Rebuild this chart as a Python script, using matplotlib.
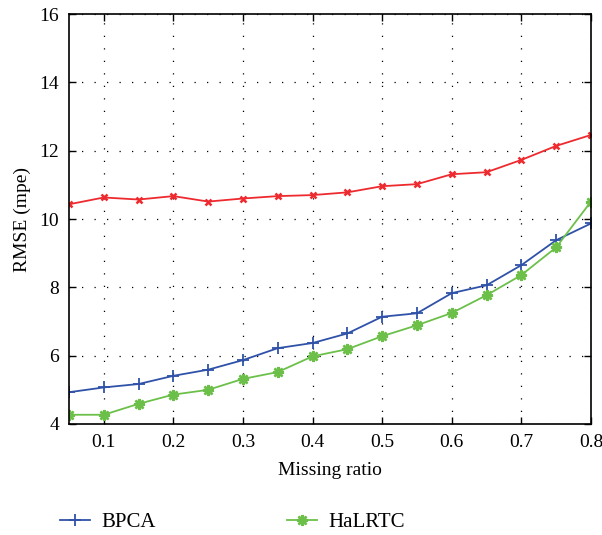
import numpy as np
import matplotlib.pyplot as plt

plt.rcParams["font.family"] = ["Liberation Serif", "DejaVu Serif"]

# Data
missing_ratio = [0.05, 0.10, 0.15, 0.20, 0.25, 0.30, 0.35, 0.40,
                 0.45, 0.50, 0.55, 0.60, 0.65, 0.70, 0.75, 0.80]
bpca = [4.93, 5.07, 5.17, 5.41, 5.59, 5.87, 6.22, 6.37,
        6.65, 7.14, 7.24, 7.83, 8.06, 8.65, 9.38, 9.87]
halrtc = [4.27, 4.27, 4.59, 4.86, 5.00, 5.32, 5.52, 5.98,
          6.19, 6.57, 6.89, 7.25, 7.77, 8.36, 9.17, 10.51]
mean_imp = [10.43, 10.63, 10.57, 10.67, 10.51, 10.60, 10.67, 10.70,
            10.78, 10.96, 11.02, 11.31, 11.37, 11.73, 12.14, 12.46]

xticks = [0.1, 0.2, 0.3, 0.4, 0.5, 0.6, 0.7, 0.8]
yticks = [4, 6, 8, 10, 12, 14, 16]

fig = plt.figure(figsize=(6.02, 5.35), dpi=100)
ax = fig.add_axes([0.1146, 0.2075, 0.8671, 0.7663])

l1, = ax.plot(missing_ratio, bpca, color="#2f52a8", lw=1.3, marker="+",
              ms=9, mew=1.3, label="BPCA")
l3, = ax.plot(missing_ratio, mean_imp, color="#ee2a2f", lw=1.3, marker="x",
              ms=5, mew=1.8, label="Mean")
l2, = ax.plot(missing_ratio, halrtc, color="#6cc04a", lw=1.3, marker=(8, 2, 0),
              ms=8, mew=1.8, label="HaLRTC")

ax.set_xlim(0.05, 0.8)
ax.set_ylim(4, 16)
ax.set_xticks(xticks)
ax.set_yticks(yticks)
ax.set_xticklabels([f"{t:.1f}" for t in xticks])
ax.tick_params(direction="in", top=True, right=True, length=5, width=1,
               labelsize=14, pad=7)
ax.grid(True, color="black", linestyle=(0, (1, 9)), linewidth=0.9)
for s in ax.spines.values():
    s.set_linewidth(1.2)

ax.set_xlabel("Missing ratio", fontsize=14, labelpad=8)
ax.set_ylabel("RMSE (mpe)", fontsize=14, labelpad=6)

fig.legend(handles=[l1, l3, l2], loc="upper left", ncol=2,
           bbox_to_anchor=(0.068, 0.0775), frameon=False, fontsize=15,
           handlelength=1.45, handletextpad=0.55, columnspacing=6.3,
           labelspacing=0.25)

fig.savefig("out.png", dpi=100)
